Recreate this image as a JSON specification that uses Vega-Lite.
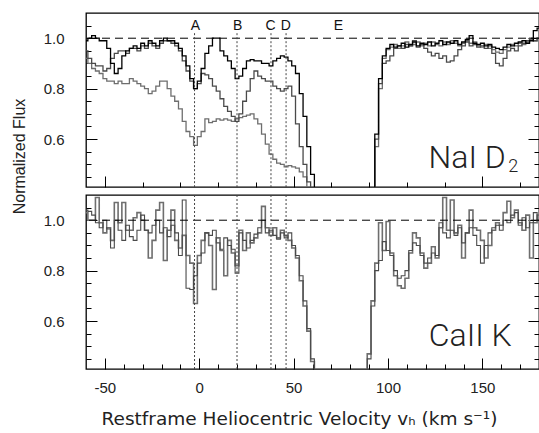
{
  "$schema": "https://vega.github.io/schema/vega-lite/v6.json",
  "padding": {"left": 10, "top": 12, "right": 0, "bottom": 0},
  "background": "white",
  "spacing": 8,
  "bounds": "flush",
  "config": {
    "view": {"stroke": "#000", "strokeWidth": 1.3},
    "axis": {"domain": false, "grid": false, "tickColor": "#000", "tickWidth": 1, "labelFont": "Liberation Sans", "labelFontSize": 15, "labelColor": "#222", "titleFont": "Liberation Sans", "titleFontWeight": "normal", "titleColor": "#222", "titleFontSize": 16, "labelOverlap": false, "labelFlush": false, "labelBound": false}
  },
  "datasets": {
    "nai": [
      {"v":-60,"a":0.99,"b":0.95,"c":0.92},{"v":-58,"a":1.0,"b":0.92,"c":0.9},{"v":-56,"a":1.01,"b":0.9,"c":0.88},{"v":-54,"a":1.0,"b":0.89,"c":0.87},
      {"v":-52,"a":0.99,"b":0.89,"c":0.86},{"v":-50,"a":0.99,"b":0.87,"c":0.84},{"v":-48,"a":0.96,"b":0.88,"c":0.83},{"v":-46,"a":0.9,"b":0.92,"c":0.83},
      {"v":-44,"a":0.86,"b":0.94,"c":0.82},{"v":-42,"a":0.88,"b":0.95,"c":0.83},{"v":-40,"a":0.93,"b":0.95,"c":0.82},{"v":-38,"a":0.95,"b":0.94,"c":0.82},
      {"v":-36,"a":0.96,"b":0.96,"c":0.84},{"v":-34,"a":0.97,"b":0.96,"c":0.83},{"v":-32,"a":0.96,"b":0.95,"c":0.82},{"v":-30,"a":0.98,"b":0.97,"c":0.81},
      {"v":-28,"a":0.97,"b":0.96,"c":0.8},{"v":-26,"a":0.99,"b":0.98,"c":0.78},{"v":-24,"a":0.98,"b":0.97,"c":0.79},{"v":-22,"a":0.97,"b":0.96,"c":0.81},
      {"v":-20,"a":0.99,"b":0.98,"c":0.83},{"v":-18,"a":1.0,"b":0.99,"c":0.83},{"v":-16,"a":0.99,"b":0.99,"c":0.8},{"v":-14,"a":0.99,"b":0.98,"c":0.77},
      {"v":-12,"a":0.98,"b":0.97,"c":0.75},{"v":-10,"a":0.96,"b":0.95,"c":0.72},{"v":-8,"a":0.93,"b":0.91,"c":0.67},{"v":-6,"a":0.89,"b":0.87,"c":0.63},
      {"v":-4,"a":0.84,"b":0.83,"c":0.61},{"v":-2,"a":0.8,"b":0.8,"c":0.575},{"v":0,"a":0.83,"b":0.82,"c":0.61},{"v":2,"a":0.88,"b":0.86,"c":0.63},
      {"v":4,"a":0.94,"b":0.855,"c":0.68},{"v":6,"a":0.97,"b":0.84,"c":0.665},{"v":8,"a":1.0,"b":0.81,"c":0.67},{"v":10,"a":1.0,"b":0.79,"c":0.68},
      {"v":12,"a":0.95,"b":0.76,"c":0.675},{"v":14,"a":0.93,"b":0.73,"c":0.68},{"v":16,"a":0.91,"b":0.71,"c":0.675},{"v":18,"a":0.88,"b":0.69,"c":0.67},
      {"v":20,"a":0.84,"b":0.67,"c":0.68},{"v":22,"a":0.85,"b":0.7,"c":0.685},{"v":24,"a":0.88,"b":0.75,"c":0.69},{"v":26,"a":0.91,"b":0.79,"c":0.695},
      {"v":28,"a":0.915,"b":0.84,"c":0.7},{"v":30,"a":0.91,"b":0.87,"c":0.68},{"v":32,"a":0.91,"b":0.85,"c":0.66},{"v":34,"a":0.9,"b":0.84,"c":0.62},
      {"v":36,"a":0.9,"b":0.83,"c":0.58},{"v":38,"a":0.89,"b":0.83,"c":0.54},{"v":40,"a":0.91,"b":0.81,"c":0.52},{"v":42,"a":0.92,"b":0.8,"c":0.505},
      {"v":44,"a":0.93,"b":0.79,"c":0.5},{"v":46,"a":0.925,"b":0.8,"c":0.49},{"v":48,"a":0.91,"b":0.81,"c":0.495},{"v":50,"a":0.89,"b":0.77,"c":0.49},
      {"v":52,"a":0.86,"b":0.66,"c":0.485},{"v":54,"a":0.78,"b":0.57,"c":0.47},{"v":56,"a":0.69,"b":0.5,"c":0.45},{"v":58,"a":0.57,"b":0.43,"c":0.4},
      {"v":60,"a":0.46,"b":0.35,"c":0.3},{"v":62,"a":0.33,"b":0.25,"c":0.2},{"v":64,"a":0.2,"b":0.2,"c":0.2},{"v":90,"a":0.2,"b":0.2,"c":0.2},
      {"v":92,"a":0.36,"b":0.34,"c":0.33},{"v":94,"a":0.62,"b":0.6,"c":0.57},{"v":96,"a":0.84,"b":0.82,"c":0.8},{"v":98,"a":0.93,"b":0.9,"c":0.92},
      {"v":100,"a":0.96,"b":0.91,"c":0.955},{"v":102,"a":0.975,"b":0.93,"c":0.965},{"v":104,"a":0.965,"b":0.96,"c":0.975},{"v":106,"a":0.97,"b":0.97,"c":0.96},
      {"v":108,"a":0.98,"b":0.96,"c":0.97},{"v":110,"a":0.965,"b":0.975,"c":0.985},{"v":112,"a":0.975,"b":0.97,"c":0.97},{"v":114,"a":0.985,"b":0.99,"c":0.975},
      {"v":116,"a":0.97,"b":0.965,"c":0.985},{"v":118,"a":0.98,"b":0.975,"c":0.97},{"v":120,"a":0.975,"b":0.96,"c":0.98},{"v":122,"a":0.985,"b":0.945,"c":0.97},
      {"v":124,"a":0.97,"b":0.93,"c":0.985},{"v":126,"a":0.98,"b":0.94,"c":0.975},{"v":128,"a":0.99,"b":0.92,"c":0.97},{"v":130,"a":0.975,"b":0.93,"c":0.985},
      {"v":132,"a":0.985,"b":0.905,"c":0.975},{"v":134,"a":0.98,"b":0.91,"c":0.99},{"v":136,"a":0.99,"b":0.93,"c":0.98},{"v":138,"a":0.975,"b":0.955,"c":0.97},
      {"v":140,"a":0.985,"b":0.97,"c":0.98},{"v":142,"a":0.995,"b":0.985,"c":0.99},{"v":144,"a":1.01,"b":0.97,"c":0.98},{"v":146,"a":0.98,"b":0.975,"c":0.985},
      {"v":148,"a":0.975,"b":0.965,"c":0.97},{"v":150,"a":0.98,"b":0.97,"c":0.965},{"v":152,"a":0.97,"b":0.96,"c":0.975},{"v":154,"a":0.975,"b":0.97,"c":0.96},
      {"v":156,"a":0.965,"b":0.94,"c":0.955},{"v":158,"a":0.96,"b":0.9,"c":0.945},{"v":160,"a":0.955,"b":0.89,"c":0.94},{"v":162,"a":0.965,"b":0.92,"c":0.955},
      {"v":164,"a":0.975,"b":0.95,"c":0.965},{"v":166,"a":0.97,"b":0.96,"c":0.975},{"v":168,"a":0.98,"b":0.95,"c":0.97},{"v":170,"a":0.985,"b":0.97,"c":0.98},
      {"v":172,"a":0.99,"b":0.98,"c":0.975},{"v":174,"a":0.98,"b":0.99,"c":0.985},{"v":176,"a":0.99,"b":1.0,"c":0.995},{"v":178,"a":1.03,"b":0.99,"c":0.99},
      {"v":180,"a":1.04,"b":1.0,"c":1.0}
    ],
    "cak": [
      {"v":-60,"k":1.04,"g":1.03},{"v":-58,"k":1.035,"g":1.0},{"v":-56,"k":1.02,"g":1.0},{"v":-54,"k":0.99,"g":1.09},{"v":-52,"k":0.97,"g":0.99},
      {"v":-50,"k":1.0,"g":0.95},{"v":-48,"k":0.965,"g":0.97},{"v":-46,"k":0.89,"g":0.92},{"v":-44,"k":1.0,"g":1.07},{"v":-42,"k":0.96,"g":0.99},
      {"v":-40,"k":0.92,"g":1.07},{"v":-38,"k":0.98,"g":0.96},{"v":-36,"k":0.935,"g":0.96},{"v":-34,"k":0.92,"g":1.01},{"v":-32,"k":0.96,"g":1.03},
      {"v":-30,"k":1.02,"g":1.0},{"v":-28,"k":0.96,"g":0.96},{"v":-26,"k":0.95,"g":0.85},{"v":-24,"k":0.98,"g":0.92},{"v":-22,"k":1.0,"g":1.04},
      {"v":-20,"k":0.95,"g":1.07},{"v":-18,"k":0.97,"g":0.84},{"v":-16,"k":0.935,"g":0.96},{"v":-14,"k":0.98,"g":1.04},{"v":-12,"k":0.95,"g":0.92},
      {"v":-10,"k":0.86,"g":0.89},{"v":-8,"k":1.08,"g":0.94},{"v":-6,"k":0.73,"g":0.86},{"v":-4,"k":0.725,"g":0.83},{"v":-2,"k":0.78,"g":0.67},
      {"v":0,"k":0.83,"g":0.86},{"v":2,"k":0.87,"g":0.92},{"v":4,"k":0.95,"g":0.95},{"v":6,"k":0.94,"g":0.9},{"v":8,"k":0.96,"g":0.725},
      {"v":10,"k":0.91,"g":0.93},{"v":12,"k":0.885,"g":0.88},{"v":14,"k":0.93,"g":0.78},{"v":16,"k":0.9,"g":0.92},{"v":18,"k":0.885,"g":0.87},
      {"v":20,"k":0.79,"g":0.82},{"v":22,"k":0.95,"g":0.96},{"v":24,"k":0.92,"g":0.88},{"v":26,"k":0.89,"g":0.95},{"v":28,"k":0.92,"g":0.91},
      {"v":30,"k":0.945,"g":0.93},{"v":32,"k":0.97,"g":0.95},{"v":34,"k":1.0,"g":1.055},{"v":36,"k":0.95,"g":0.97},{"v":38,"k":0.96,"g":0.94},
      {"v":40,"k":0.94,"g":0.97},{"v":42,"k":0.925,"g":0.93},{"v":44,"k":0.95,"g":0.96},{"v":46,"k":0.93,"g":0.94},{"v":48,"k":0.95,"g":0.92},
      {"v":50,"k":0.9,"g":0.89},{"v":52,"k":0.86,"g":0.85},{"v":54,"k":0.78,"g":0.76},{"v":56,"k":0.68,"g":0.66},{"v":58,"k":0.57,"g":0.56},
      {"v":60,"k":0.45,"g":0.44},{"v":62,"k":0.3,"g":0.3},{"v":64,"k":0.2,"g":0.2},{"v":88,"k":0.2,"g":0.2},{"v":90,"k":0.45,"g":0.47},
      {"v":92,"k":0.66,"g":0.68},{"v":94,"k":0.8,"g":0.83},{"v":96,"k":0.84,"g":0.99},{"v":98,"k":0.915,"g":0.88},{"v":100,"k":0.88,"g":0.995},
      {"v":102,"k":0.86,"g":0.87},{"v":104,"k":0.8,"g":0.78},{"v":106,"k":0.77,"g":0.74},{"v":108,"k":0.78,"g":0.73},{"v":110,"k":0.8,"g":0.77},
      {"v":112,"k":0.88,"g":0.87},{"v":114,"k":0.91,"g":0.95},{"v":116,"k":0.9,"g":0.93},{"v":118,"k":0.86,"g":0.87},{"v":120,"k":0.83,"g":0.81},
      {"v":122,"k":0.85,"g":0.83},{"v":124,"k":0.87,"g":0.895},{"v":126,"k":0.86,"g":0.85},{"v":128,"k":0.99,"g":0.97},{"v":130,"k":0.95,"g":1.09},
      {"v":132,"k":0.93,"g":0.96},{"v":134,"k":0.96,"g":1.08},{"v":136,"k":0.94,"g":0.95},{"v":138,"k":0.97,"g":0.98},{"v":140,"k":0.91,"g":0.85},
      {"v":142,"k":0.95,"g":0.95},{"v":144,"k":0.97,"g":1.04},{"v":146,"k":0.94,"g":0.97},{"v":148,"k":0.9,"g":0.96},{"v":150,"k":0.83,"g":0.92},
      {"v":152,"k":0.9,"g":0.85},{"v":154,"k":0.95,"g":0.9},{"v":156,"k":0.97,"g":0.96},{"v":158,"k":0.98,"g":0.99},{"v":160,"k":0.96,"g":0.98},
      {"v":162,"k":1.0,"g":1.03},{"v":164,"k":0.99,"g":1.075},{"v":166,"k":1.02,"g":1.01},{"v":168,"k":1.03,"g":1.04},{"v":170,"k":0.98,"g":0.99},
      {"v":172,"k":1.01,"g":0.96},{"v":174,"k":0.97,"g":1.02},{"v":176,"k":0.99,"g":0.85},{"v":178,"k":1.03,"g":0.99},{"v":180,"k":1.0,"g":1.02}
    ],
    "comps": [{"v":-2.5},{"v":20},{"v":38},{"v":46}],
    "labs": [{"t":"A","v":-2},{"t":"B","v":20.4},{"t":"C","v":37.8},{"t":"D","v":45.8},{"t":"E","v":73.7}],
    "topname": [{"t":"NaI D","v":121.5,"y":0.485}],
    "topsub": [{"t":"2","v":163.7,"y":0.468}],
    "botname": [{"t":"CaII K","v":121.6,"y":0.5}]
  },
  "vconcat": [
    {
      "width": 453,
      "height": 174,
      "resolve": {"axis": {"y": "independent"}},
      "layer": [
        {
          "data": {"name": "nai"},
          "transform": [{"fold": ["c", "b", "a"], "as": ["s", "f"]}],
          "mark": {"type": "line", "interpolate": "step", "clip": true, "strokeWidth": 1.3},
          "encoding": {
            "x": {"field": "v", "type": "quantitative", "scale": {"domain": [-60, 180], "nice": false, "zero": false},
              "axis": {"values": [-50,-40,-30,-20,-10,0,10,20,30,40,50,60,70,80,90,100,110,120,130,140,150,160,170], "labels": false, "title": null,
                "tickSize": {"condition": {"test": "indexof([-50,0,50,100,150], datum.value) >= 0", "value": -11}, "value": -5}}},
            "y": {"field": "f", "type": "quantitative", "scale": {"domain": [0.41, 1.1], "nice": false, "zero": false},
              "axis": {"values": [0.45,0.5,0.55,0.6,0.65,0.7,0.75,0.8,0.85,0.9,0.95,1.0,1.05], "format": ".1f", "labelOverlap": false,
                "labelExpr": "abs(datum.value*5 - round(datum.value*5)) < 0.01 ? datum.label : ''",
                "tickSize": {"condition": {"test": "abs(datum.value*5 - round(datum.value*5)) < 0.01", "value": -11}, "value": -5},
                "labelPadding": 33,
                "title": "Normalized Flux", "titleFontSize": 16, "titleX": -67, "titleY": 143, "titleAngle": 270, "titleAlign": "center", "titleBaseline": "middle"}},
            "color": {"field": "s", "type": "nominal", "scale": {"domain": ["c", "b", "a"], "range": ["#6e6e6e", "#4a4a4a", "#000000"]}, "legend": null}
          }
        },
        {
          "data": {"values": [{}]},
          "mark": {"type": "rule", "strokeDash": [8, 5], "color": "#000", "strokeWidth": 1},
          "encoding": {
            "y": {"datum": 1, "type": "quantitative",
              "axis": {"orient": "right", "labels": false, "title": null, "values": [0.45,0.5,0.55,0.6,0.65,0.7,0.75,0.8,0.85,0.9,0.95,1.0,1.05],
                "tickSize": {"condition": {"test": "abs(datum.value*5 - round(datum.value*5)) < 0.01", "value": -11}, "value": -5}}}
          }
        },
        {
          "data": {"name": "comps"},
          "mark": {"type": "rule", "strokeDash": [2, 2], "color": "#444", "strokeWidth": 1},
          "encoding": {
            "x": {"field": "v", "type": "quantitative"},
            "y": {"datum": 1.02, "type": "quantitative", "axis": null},
            "y2": {"datum": 0.41}
          }
        },
        {
          "data": {"name": "labs"},
          "mark": {"type": "text", "font": "Liberation Sans", "fontSize": 14, "color": "#111", "baseline": "middle", "align": "center"},
          "encoding": {
            "x": {"field": "v", "type": "quantitative"},
            "y": {"datum": 1.048, "type": "quantitative", "axis": null},
            "text": {"field": "t"}
          }
        },
        {
          "data": {"name": "topname"},
          "mark": {"type": "text", "font": "Roboto", "fontWeight": 300, "fontSize": 32, "color": "#222", "baseline": "alphabetic", "align": "left"},
          "encoding": {
            "x": {"field": "v", "type": "quantitative"},
            "y": {"field": "y", "type": "quantitative", "axis": null},
            "text": {"field": "t"}
          }
        },
        {
          "data": {"name": "topsub"},
          "mark": {"type": "text", "font": "Roboto", "fontWeight": 300, "fontSize": 18, "color": "#222", "baseline": "alphabetic", "align": "left"},
          "encoding": {
            "x": {"field": "v", "type": "quantitative"},
            "y": {"field": "y", "type": "quantitative", "axis": null},
            "text": {"field": "t"}
          }
        }
      ]
    },
    {
      "width": 453,
      "height": 174,
      "resolve": {"axis": {"y": "independent", "x": "independent"}},
      "layer": [
        {
          "data": {"name": "cak"},
          "transform": [{"fold": ["g", "k"], "as": ["s", "f"]}],
          "mark": {"type": "line", "interpolate": "step", "clip": true},
          "encoding": {
            "x": {"field": "v", "type": "quantitative", "scale": {"domain": [-60, 180], "nice": false, "zero": false},
              "axis": {"values": [-50, 0, 50, 100, 150], "labelOverlap": false, "labelFlush": false, "labelBound": false,
                "labelExpr": "'' + datum.value", "labelPadding": 22, "tickSize": -11,
                "title": "Restframe Heliocentric Velocity v\u2095 (km s\u207b\u00b9)", "titleFont": "DejaVu Sans", "titleFontSize": 18.5, "titleY": 49, "titleBaseline": "middle", "titleX": 213, "titleAlign": "center"}},
            "y": {"field": "f", "type": "quantitative", "scale": {"domain": [0.41, 1.1], "nice": false, "zero": false},
              "axis": {"values": [0.45,0.5,0.55,0.6,0.65,0.7,0.75,0.8,0.85,0.9,0.95,1.0,1.05], "format": ".1f", "labelOverlap": false,
                "labelExpr": "abs(datum.value*5 - round(datum.value*5)) < 0.01 ? datum.label : ''",
                "tickSize": {"condition": {"test": "abs(datum.value*5 - round(datum.value*5)) < 0.01", "value": -11}, "value": -5},
                "labelPadding": 33, "title": null}},
            "color": {"field": "s", "type": "nominal", "scale": {"domain": ["g", "k"], "range": ["#8a8a8a", "#000000"]}, "legend": null},
            "strokeWidth": {"field": "s", "type": "nominal", "scale": {"domain": ["g", "k"], "range": [1.6, 1.1]}, "legend": null}
          }
        },
        {
          "data": {"values": [{}]},
          "mark": {"type": "rule", "strokeDash": [8, 5], "color": "#000", "strokeWidth": 1},
          "encoding": {
            "y": {"datum": 1, "type": "quantitative",
              "axis": {"orient": "right", "labels": false, "title": null, "values": [0.45,0.5,0.55,0.6,0.65,0.7,0.75,0.8,0.85,0.9,0.95,1.0,1.05],
                "tickSize": {"condition": {"test": "abs(datum.value*5 - round(datum.value*5)) < 0.01", "value": -11}, "value": -5}}}
          }
        },
        {
          "data": {"name": "comps"},
          "mark": {"type": "rule", "strokeDash": [2, 2], "color": "#444", "strokeWidth": 1},
          "encoding": {
            "x": {"field": "v", "type": "quantitative",
              "axis": {"orient": "bottom", "values": [-40,-30,-20,-10,10,20,30,40,60,70,80,90,110,120,130,140,160,170], "labels": false, "title": null, "tickSize": -5}}
          }
        },
        {
          "data": {"name": "botname"},
          "mark": {"type": "text", "font": "Roboto", "fontWeight": 300, "fontSize": 32, "color": "#222", "baseline": "alphabetic", "align": "left"},
          "encoding": {
            "x": {"field": "v", "type": "quantitative", "axis": null},
            "y": {"field": "y", "type": "quantitative", "axis": null},
            "text": {"field": "t"}
          }
        }
      ]
    }
  ]
}
